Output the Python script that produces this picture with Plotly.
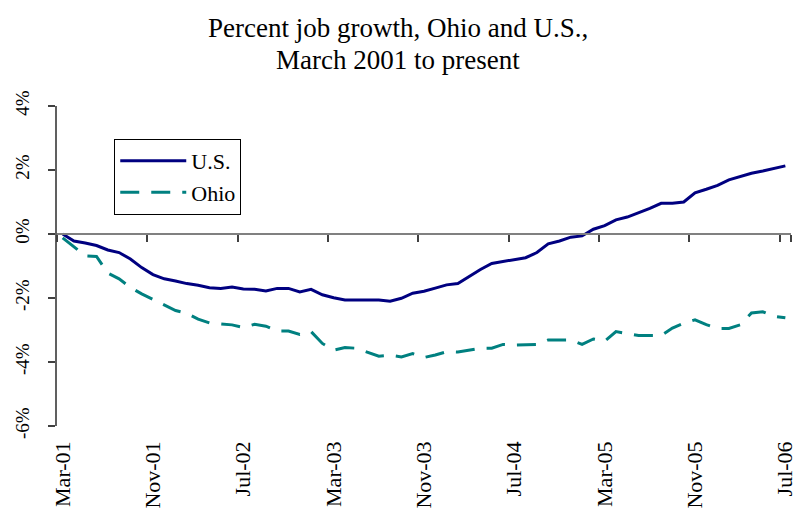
import plotly.graph_objects as go

months = [
    "Mar-01", "Apr-01", "May-01", "Jun-01", "Jul-01", "Aug-01", "Sep-01", "Oct-01", "Nov-01", "Dec-01",
    "Jan-02", "Feb-02", "Mar-02", "Apr-02", "May-02", "Jun-02", "Jul-02", "Aug-02", "Sep-02", "Oct-02", "Nov-02", "Dec-02",
    "Jan-03", "Feb-03", "Mar-03", "Apr-03", "May-03", "Jun-03", "Jul-03", "Aug-03", "Sep-03", "Oct-03", "Nov-03", "Dec-03",
    "Jan-04", "Feb-04", "Mar-04", "Apr-04", "May-04", "Jun-04", "Jul-04", "Aug-04", "Sep-04", "Oct-04", "Nov-04", "Dec-04",
    "Jan-05", "Feb-05", "Mar-05", "Apr-05", "May-05", "Jun-05", "Jul-05", "Aug-05", "Sep-05", "Oct-05", "Nov-05", "Dec-05",
    "Jan-06", "Feb-06", "Mar-06", "Apr-06", "May-06", "Jun-06", "Jul-06",
]

us = [
    0.00, -0.22, -0.28, -0.36, -0.50, -0.58, -0.78, -1.05, -1.27, -1.40,
    -1.47, -1.55, -1.60, -1.68, -1.70, -1.66, -1.72, -1.73, -1.78, -1.70, -1.70, -1.81,
    -1.73, -1.90, -1.99, -2.06, -2.06, -2.06, -2.06, -2.10, -2.01, -1.85, -1.79, -1.69,
    -1.59, -1.55, -1.32, -1.11, -0.92, -0.86, -0.81, -0.74, -0.58, -0.31, -0.22, -0.10,
    -0.06, 0.15, 0.26, 0.44, 0.53, 0.66, 0.80, 0.96, 0.96, 1.00, 1.29, 1.40,
    1.52, 1.69, 1.80, 1.90, 1.97, 2.05, 2.13,
]

ohio = [
    -0.12, -0.40, -0.68, -0.70, -1.22, -1.40, -1.67, -1.87, -2.05, -2.23,
    -2.39, -2.48, -2.66, -2.78, -2.80, -2.84, -2.92, -2.82, -2.88, -3.03, -3.03, -3.14,
    -3.05, -3.42, -3.63, -3.55, -3.57, -3.70, -3.82, -3.79, -3.84, -3.74, -3.86, -3.78,
    -3.68, -3.69, -3.63, -3.57, -3.57, -3.45, -3.47, -3.47, -3.45, -3.31, -3.31, -3.31,
    -3.45, -3.28, -3.35, -3.05, -3.11, -3.17, -3.17, -3.17, -2.94, -2.79, -2.68, -2.83,
    -2.95, -2.95, -2.84, -2.47, -2.43, -2.57, -2.62,
]

tick_labels = ["Mar-01", "Nov-01", "Jul-02", "Mar-03", "Nov-03", "Jul-04", "Mar-05", "Nov-05", "Jul-06"]
y_ticks = [-6, -4, -2, 0, 2, 4]
y_tick_text = ["-6%", "-4%", "-2%", "0%", "2%", "4%"]
title_lines = ["Percent job growth, Ohio and U.S.,", "March 2001 to present"]

SERIF = "Liberation Serif, Times New Roman, serif"

fig = go.Figure()
fig.add_trace(go.Scatter(
    x=months, y=us, name="U.S.", mode="lines",
    line=dict(color="#000080", width=3),
))
fig.add_trace(go.Scatter(
    x=months, y=ohio, name="Ohio", mode="lines",
    line=dict(color="#008080", width=3, dash="19px,12px"),
))
# invisible helper trace for the axis drawn through zero
fig.add_trace(go.Scatter(
    x=months, y=[0] * len(months), xaxis="x2", mode="lines",
    line=dict(color="rgba(0,0,0,0)", width=0), showlegend=False, hoverinfo="skip",
))

for txt, yy in zip(title_lines, [1.243, 1.143]):
    fig.add_annotation(
        text=txt, xref="paper", yref="paper", x=(398 - 57) / 734, y=yy,
        xanchor="center", yanchor="middle", showarrow=False,
        font=dict(family=SERIF, size=27, color="black"),
    )

fig.update_layout(
    width=796, height=511,
    paper_bgcolor="white", plot_bgcolor="white",
    margin=dict(l=57, r=5, t=106, b=85, autoexpand=False),
    font=dict(family=SERIF, color="black"),
    showlegend=True,
    legend=dict(
        x=0.078, y=0.897, xanchor="left", yanchor="top",
        bgcolor="white", bordercolor="black", borderwidth=1,
        font=dict(family=SERIF, size=22, color="black"),
        itemwidth=66, tracegroupgap=0,
    ),
    xaxis=dict(
        type="category", categoryorder="array", categoryarray=months,
        range=[-0.5, len(months) - 0.5], automargin=False,
        tickmode="array", tickvals=tick_labels, ticktext=tick_labels,
        tickangle=-90, ticks="", showline=False, showgrid=False, zeroline=False,
        tickfont=dict(family=SERIF, size=22, color="black"),
        ticklabelstandoff=10,
    ),
    xaxis2=dict(
        type="category", categoryorder="array", categoryarray=months,
        overlaying="x", anchor="free", position=0.6, side="bottom",
        range=[-0.5, len(months) - 0.5], automargin=False,
        tickmode="array", tickvals=tick_labels,
        tickson="boundaries", ticks="outside", ticklen=7, tickwidth=1.5, tickcolor="#404040",
        showticklabels=False, showline=True, linecolor="#808080", linewidth=2,
        showgrid=False, zeroline=False,
    ),
    yaxis=dict(
        range=[-6, 4], tickmode="array", tickvals=y_ticks, ticktext=y_tick_text,
        automargin=False,
        tickangle=-90, ticks="outside", ticklen=7, tickwidth=1.5, tickcolor="#404040",
        showline=True, linecolor="#606060", linewidth=1.5,
        showgrid=False, zeroline=False,
        tickfont=dict(family=SERIF, size=19, color="black"),
        ticklabelstandoff=12,
    ),
)

fig.write_html(
    "out.html",
    config={"displayModeBar": False},
    post_script="document.body.style.margin='0';",
)
